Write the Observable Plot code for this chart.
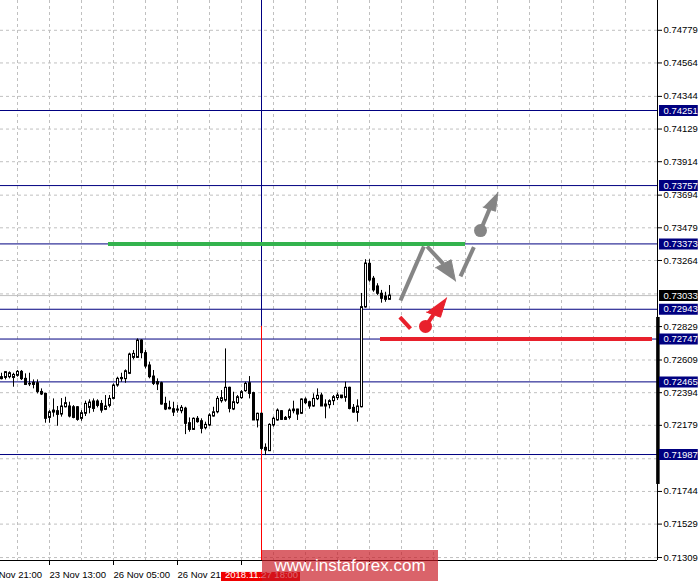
<!DOCTYPE html>
<html><head><meta charset="utf-8">
<script src="https://cdn.jsdelivr.net/npm/d3@7"></script>
<script src="https://cdn.jsdelivr.net/npm/@observablehq/plot@0.6"></script>
<style>
html,body{margin:0;padding:0;background:#fff;}
#wrap{position:relative;width:700px;height:581px;overflow:hidden;}
#wm{position:absolute;left:262px;top:550px;width:176px;height:31px;background:rgba(200,25,35,0.68);color:#fff;font:17px "Liberation Sans",Arial,sans-serif;line-height:31px;text-align:center;}
</style></head><body><div id="wrap"><div id="wm">www.instaforex.com</div></div><script>
// ---- candle data (H1 bars, index 0 = 23 Nov 01:00) ----
const open  = [0.72496,0.72491,0.72496,0.72491,0.72505,0.72531,0.72485,0.72452,0.72459,0.72456,
0.72399,0.72386,0.72228,0.72276,0.72272,0.72250,0.72298,0.72303,0.72298,0.72298,
0.72222,0.72255,0.72294,0.72336,0.72336,0.72320,0.72281,0.72307,0.72353,0.72441,
0.72483,0.72483,0.72518,0.72623,0.72623,0.72737,0.72654,0.72573,0.72500,0.72463,
0.72456,0.72320,0.72294,0.72285,0.72276,0.72272,0.72289,0.72193,0.72149,0.72222,
0.72206,0.72160,0.72178,0.72237,0.72265,0.72338,0.72342,0.72426,0.72283,0.72325,
0.72358,0.72404,0.72456,0.72391,0.72211,0.72255,0.72031,0.72009,0.72178,0.72211,
0.72272,0.72228,0.72228,0.72283,0.72283,0.72255,0.72349,0.72331,0.72303,0.72351,
0.72375,0.72303,0.72312,0.72338,0.72358,0.72375,0.72360,0.72426,0.72294,0.72261,
0.72298,0.72955,0.73242,0.73144,0.73093,0.73045,0.73027,0.73005];
const high  = [0.72522,0.72533,0.72531,0.72522,0.72540,0.72540,0.72518,0.72522,0.72478,0.72478,
0.72419,0.72391,0.72276,0.72353,0.72303,0.72355,0.72364,0.72331,0.72309,0.72303,
0.72276,0.72338,0.72347,0.72353,0.72347,0.72342,0.72375,0.72375,0.72452,0.72496,
0.72522,0.72544,0.72654,0.72671,0.72748,0.72742,0.72671,0.72595,0.72540,0.72485,
0.72463,0.72364,0.72338,0.72331,0.72309,0.72309,0.72298,0.72228,0.72228,0.72237,
0.72222,0.72200,0.72255,0.72298,0.72369,0.72408,0.72682,0.72430,0.72397,0.72375,
0.72408,0.72463,0.72500,0.72397,0.72259,0.72259,0.72057,0.72189,0.72233,0.72287,
0.72276,0.72237,0.72287,0.72338,0.72285,0.72353,0.72360,0.72338,0.72386,0.72419,
0.72391,0.72347,0.72347,0.72375,0.72391,0.72375,0.72463,0.72430,0.72316,0.72347,
0.73047,0.73269,0.73269,0.73159,0.73111,0.73067,0.73055,0.73099];
const low   = [0.72478,0.72478,0.72485,0.72430,0.72496,0.72474,0.72441,0.72434,0.72419,0.72386,
0.72375,0.72193,0.72193,0.72233,0.72173,0.72233,0.72294,0.72228,0.72222,0.72206,
0.72206,0.72237,0.72255,0.72265,0.72294,0.72259,0.72276,0.72294,0.72347,0.72430,
0.72463,0.72456,0.72513,0.72610,0.72619,0.72617,0.72551,0.72485,0.72441,0.72408,
0.72312,0.72276,0.72281,0.72237,0.72259,0.72255,0.72118,0.72134,0.72145,0.72193,
0.72123,0.72149,0.72171,0.72233,0.72255,0.72325,0.72331,0.72261,0.72276,0.72316,
0.72351,0.72397,0.72353,0.72211,0.72162,0.72013,0.71980,0.72009,0.72167,0.72206,
0.72211,0.72211,0.72215,0.72255,0.72211,0.72250,0.72316,0.72285,0.72298,0.72342,
0.72303,0.72222,0.72287,0.72309,0.72342,0.72353,0.72331,0.72281,0.72259,0.72200,
0.72294,0.72950,0.73121,0.73055,0.73034,0.72983,0.72989,0.73005];
const close = [0.72483,0.72529,0.72522,0.72511,0.72531,0.72483,0.72445,0.72448,0.72445,0.72399,
0.72382,0.72222,0.72265,0.72263,0.72248,0.72303,0.72325,0.72237,0.72228,0.72215,
0.72259,0.72320,0.72329,0.72287,0.72307,0.72276,0.72303,0.72353,0.72441,0.72485,
0.72491,0.72535,0.72645,0.72649,0.72737,0.72654,0.72566,0.72496,0.72452,0.72448,
0.72316,0.72283,0.72285,0.72263,0.72283,0.72294,0.72189,0.72149,0.72222,0.72200,
0.72156,0.72182,0.72244,0.72265,0.72353,0.72358,0.72426,0.72287,0.72331,0.72364,
0.72397,0.72452,0.72386,0.72211,0.72255,0.72024,0.72013,0.72182,0.72222,0.72276,
0.72215,0.72215,0.72276,0.72272,0.72250,0.72349,0.72325,0.72303,0.72353,0.72373,
0.72303,0.72316,0.72338,0.72364,0.72375,0.72358,0.72426,0.72287,0.72263,0.72303,
0.72957,0.73244,0.73132,0.73067,0.73045,0.73012,0.73005,0.73033];

// ---- axis / levels ----
const yGrid = [0.74779,0.74564,0.74344,0.74129,0.73914,0.73694,0.73479,0.73264,0.73044,
               0.72829,0.72609,0.72394,0.72179,0.71959,0.71744,0.71529,0.71309];
const yTickLabels = [0.74779,0.74564,0.74344,0.74129,0.73914,0.73694,0.73479,0.73264,
               0.72829,0.72609,0.72394,0.72179,0.71744,0.71529,0.71309];
const levels = [0.74251,0.73757,0.73373,0.72943,0.72747,0.72465,0.71987];
const currentPrice = 0.73033;
const gridIdx = [4,12,20,28,36,44,52,60,68,76,84,92,100,108,116,124,132,140,148,156];
const xTickIdx = [12,28,44,60,76,92];
const xLabelIdx = [-4,12,28,44];
const xLabels = ["22 Nov 21:00","23 Nov 13:00","26 Nov 05:00","26 Nov 21:00"];
const yDomain = [0.712895, 0.74975];
const xDomain = [-0.25, 164];

// ---- drawn objects (index / price space) ----
const vLine = {i: 65, split: 0.7283, label: "2018.11.27 18:00"};
const greenLine = {y: 0.73373, x1: 26.75, x2: 116};
const redLine = {y: 0.72747, x1: 94.75, x2: 162.75};
const graySegs = [
  {x1: 99.75, y1: 0.73001, x2: 105.6, y2: 0.73356},
  {x1: 106.4, y1: 0.73356, x2: 110.45, y2: 0.73242},
  {x1: 114.75, y1: 0.73159, x2: 118.1, y2: 0.73352},
  {x1: 119.75, y1: 0.73461, x2: 122.0, y2: 0.73602}
];
const grayHeads = [
  {id: "a", x: 108.5, y: 0.73216}, {id: "a", x: 112.4, y: 0.73269}, {id: "a", x: 113.5, y: 0.73128},
  {id: "b", x: 120.4, y: 0.73615}, {id: "b", x: 123.5, y: 0.73588}, {id: "b", x: 124.1, y: 0.73713}
];
const grayDot = {x: 119.75, y: 0.73461};
const redSegs = [
  {x1: 99.6, y1: 0.72891, x2: 102.25, y2: 0.72815},
  {x1: 106.0, y1: 0.72830, x2: 108.0, y2: 0.72907}
];
const redHeads = [
  {id: "r", x: 106.25, y: 0.72924}, {id: "r", x: 109.75, y: 0.72891}, {id: "r", x: 111.25, y: 0.73018}
];
const redDot = {x: 106.0, y: 0.72830};
const axisBar = {x: 164.1, y1: 0.71790, y2: 0.72889};

const candles = open.map((o, i) => ({i, open: o, high: high[i], low: low[i], close: close[i]}));
const bulls = candles.filter(d => d.close >= d.open);
const bears = candles.filter(d => d.close < d.open);

const NAVY = "#000080", GRID = "#c0c0c0", GRAY = "#858585", RED = "#e8202c", GREEN = "#33b34d";
const fmt = d3.format(".5f");

const chart = Plot.plot({
  width: 700, height: 581,
  marginLeft: 0, marginRight: 43, marginTop: 0, marginBottom: 21,
  x: {domain: xDomain, axis: "bottom", ticks: xTickIdx, tickFormat: () => "", tickSize: 5, label: null},
  y: {domain: yDomain, axis: "right", ticks: yTickLabels, tickFormat: fmt, tickSize: 4, tickPadding: 2, label: null},
  style: {fontFamily: '"Liberation Sans", Arial, sans-serif', fontSize: "9.5px", background: "white", color: "black"},
  marks: [
    Plot.ruleY(yGrid, {stroke: GRID, strokeDasharray: "3,3"}),
    Plot.ruleX(gridIdx, {stroke: GRID, strokeDasharray: "3,3"}),
    Plot.ruleY([currentPrice], {stroke: GRID}),
    Plot.ruleY(levels, {stroke: NAVY}),
    Plot.ruleX([vLine], {x: "i", y1: d => d.split, y2: yDomain[1], stroke: NAVY}),
    Plot.ruleX([vLine], {x: "i", y1: yDomain[0], y2: d => d.split, stroke: "#ff0000"}),
    Plot.ruleY([greenLine], {y: "y", x1: "x1", x2: "x2", stroke: GREEN, strokeWidth: 4}),
    Plot.ruleY([redLine], {y: "y", x1: "x1", x2: "x2", stroke: RED, strokeWidth: 4}),
    Plot.ruleX(candles, {x: "i", y1: "low", y2: "high", stroke: "black"}),
    Plot.rect(bulls, {x1: d => d.i - 0.25, x2: d => d.i + 0.25, y1: "open", y2: "close", dx: 0.5, fill: "white", stroke: "black"}),
    Plot.rect(bears, {x1: d => d.i - 0.25, x2: d => d.i + 0.25, y1: "open", y2: "close", dx: 0.5, fill: "black", stroke: "black"}),
    Plot.link(graySegs, {x1: "x1", y1: "y1", x2: "x2", y2: "y2", stroke: GRAY, strokeWidth: 4}),
    Plot.line(grayHeads, {x: "x", y: "y", z: "id", fill: GRAY, stroke: GRAY, strokeWidth: 1}),
    Plot.dot([grayDot], {x: "x", y: "y", r: 6.5, fill: GRAY}),
    Plot.link(redSegs, {x1: "x1", y1: "y1", x2: "x2", y2: "y2", stroke: RED, strokeWidth: 4}),
    Plot.line(redHeads, {x: "x", y: "y", z: "id", fill: RED, stroke: RED, strokeWidth: 1}),
    Plot.dot([redDot], {x: "x", y: "y", r: 6.5, fill: RED}),
    Plot.ruleX([xDomain[1]], {stroke: "black"}),
    Plot.ruleY([yDomain[0]], {stroke: "black"}),
    Plot.ruleX([axisBar], {x: "x", y1: "y1", y2: "y2", stroke: "black", strokeWidth: 3.5}),
    // level labels on the price axis
    Plot.ruleY(levels, {y: d => d, x1: 164.5, x2: 174.2, stroke: NAVY, strokeWidth: 11}),
    Plot.text(levels, {y: d => d, text: d => fmt(d), frameAnchor: "right", dx: 6, textAnchor: "start", fill: "white"}),
    Plot.ruleY([currentPrice], {y: d => d, x1: 164.5, x2: 174.2, stroke: "black", strokeWidth: 11}),
    Plot.text([currentPrice], {y: d => d, text: d => fmt(d), frameAnchor: "right", dx: 6, textAnchor: "start", fill: "white"}),
    // time labels
    Plot.text(xLabelIdx, {x: d => d, text: (d, i) => xLabels[i], frameAnchor: "bottom", textAnchor: "start", dy: 17}),
    Plot.rect([vLine], {x1: d => d.i - 10, x2: d => d.i + 9.75, y1: 0.71211, y2: 0.71080, fill: "#f00000"}),
    Plot.text([vLine], {x: "i", text: "label", frameAnchor: "bottom", dy: 17, fill: "white"})
  ]
});
document.getElementById("wrap").prepend(chart);
</script></body></html>
